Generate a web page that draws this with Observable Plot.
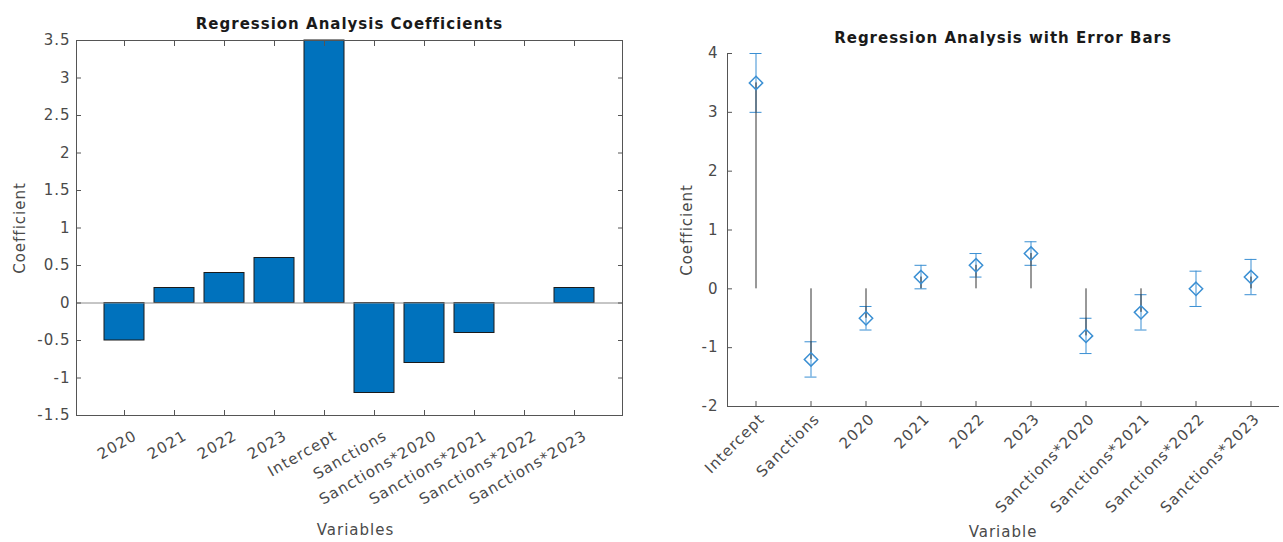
<!DOCTYPE html>
<html><head><meta charset="utf-8">
<script src="https://cdn.jsdelivr.net/npm/d3@7"></script>
<script src="https://cdn.jsdelivr.net/npm/@observablehq/plot@0.6"></script>
<style>
body{margin:0;background:#fff;}
#wrap{position:relative;width:1283px;height:542px;}
#left{position:absolute;left:0;top:0;}
#right{position:absolute;left:640px;top:0;}
svg text{letter-spacing:1px;}
svg g[aria-label="chart-title"] text{letter-spacing:2px;}
svg g[aria-label="axis-label"] text{letter-spacing:1.4px;}
</style></head><body><div id="wrap"><div id="left"></div><div id="right"></div></div>
<script>
const barVars = ["2020","2021","2022","2023","Intercept","Sanctions","Sanctions*2020","Sanctions*2021","Sanctions*2022","Sanctions*2023"];
const barCoefs = [-0.5,0.2,0.4,0.6,3.5,-1.2,-0.8,-0.4,0,0.2];
const errVars = ["Intercept","Sanctions","2020","2021","2022","2023","Sanctions*2020","Sanctions*2021","Sanctions*2022","Sanctions*2023"];
const errCoefs = [3.5,-1.2,-0.5,0.2,0.4,0.6,-0.8,-0.4,0,0.2];
const errLower = [3.0,-1.5,-0.7,0,0.2,0.4,-1.1,-0.7,-0.3,-0.1];
const errUpper = [4.0,-0.9,-0.3,0.4,0.6,0.8,-0.5,-0.1,0.3,0.5];
const leftTicks = [-1.5,-1,-0.5,0,0.5,1,1.5,2,2.5,3,3.5];
const rightTicks = [-2,-1,0,1,2,3,4];

const font = "'DejaVu Sans', sans-serif";
const axisColor = "#555";
const textColor = "#4a4a4a";
const barBlue = "#0072BD";
const errBlue = "#3a8fd3";

const barData = barVars.map((v, i) => ({v, c: barCoefs[i]}));
const errData = errVars.map((v, i) => ({v, c: errCoefs[i], lo: errLower[i], hi: errUpper[i]}));

const left = Plot.plot({
  width: 640, height: 542,
  marginLeft: 76, marginRight: 18, marginTop: 40, marginBottom: 127,
  style: {fontFamily: font, fontSize: "15px", color: textColor, background: "white"},
  x: {type: "band", domain: barVars, paddingInner: 0.2, paddingOuter: 0.5, label: null},
  y: {domain: [-1.5, 3.5], label: null},
  marks: [
    Plot.barY(barData, {x: "v", y: "c", fill: barBlue, stroke: "#1a1a1a", strokeWidth: 1}),
    Plot.ruleY([0], {stroke: "#8c8c8c"}),
    Plot.frame({stroke: axisColor}),
    Plot.axisY({ticks: leftTicks, tickFormat: d => String(d), tickSize: -5, tickPadding: 11, stroke: axisColor, label: null}),
    Plot.axisY({anchor: "right", ticks: leftTicks, tickFormat: () => "", tickSize: -5, stroke: axisColor, label: null}),
    Plot.axisX({tickSize: -5, tickFormat: () => "", stroke: axisColor, label: null}),
    Plot.axisX({tickSize: 0, tickPadding: 19, dx: 11, tickRotate: -30, label: null}),
    Plot.axisX({anchor: "top", tickSize: -5, tickFormat: () => "", stroke: axisColor, label: null}),
    Plot.text(["Regression Analysis Coefficients"], {ariaLabel: "chart-title", frameAnchor: "top", dy: -22, fontWeight: "bold", fontSize: 15, fill: "#1a1a1a"}),
    Plot.text(["Coefficient"], {ariaLabel: "axis-label", frameAnchor: "left", textAnchor: "middle", dx: -56, rotate: -90, fontSize: 15, fill: textColor}),
    Plot.text(["Variables"], {ariaLabel: "axis-label", frameAnchor: "bottom", dx: 6, dy: 119, fontSize: 15, fill: textColor})
  ]
});
document.getElementById("left").appendChild(left);

const right = Plot.plot({
  width: 643, height: 542,
  marginLeft: 87, marginRight: 5, marginTop: 53, marginBottom: 136,
  style: {fontFamily: font, fontSize: "15px", color: textColor, background: "white"},
  x: {type: "band", domain: errVars, padding: 0, label: null},
  y: {domain: [-2, 4], label: null},
  marks: [
    Plot.frame({anchor: "left", stroke: axisColor}),
    Plot.frame({anchor: "bottom", stroke: axisColor}),
    Plot.ruleX(errData, {x: "v", y1: "lo", y2: "hi", stroke: errBlue}),
    Plot.tickY(errData, {x: "v", y: "lo", stroke: errBlue, insetLeft: 21.5, insetRight: 21.5}),
    Plot.tickY(errData, {x: "v", y: "hi", stroke: errBlue, insetLeft: 21.5, insetRight: 21.5}),
    Plot.ruleX(errData, {x: "v", y1: 0, y2: "c", stroke: "#333", strokeWidth: 1}),
    Plot.dot(errData, {x: "v", y: "c", symbol: "diamond2", r: 6, stroke: errBlue, fill: "none"}),
    Plot.axisY({ticks: rightTicks, tickFormat: d => String(d), tickSize: -5, tickPadding: 14, stroke: axisColor, label: null}),
    Plot.axisX({tickSize: -5, tickFormat: () => "", stroke: axisColor, label: null}),
    Plot.axisX({tickSize: 0, tickPadding: 10, dx: 6, tickRotate: -45, label: null}),
    Plot.text(["Regression Analysis with Error Bars"], {ariaLabel: "chart-title", frameAnchor: "top", dy: -21, fontWeight: "bold", fontSize: 15, fill: "#1a1a1a"}),
    Plot.text(["Coefficient"], {ariaLabel: "axis-label", frameAnchor: "left", textAnchor: "middle", dx: -40, rotate: -90, fontSize: 15, fill: textColor}),
    Plot.text(["Variable"], {ariaLabel: "axis-label", frameAnchor: "bottom", dy: 130, fontSize: 15, fill: textColor})
  ]
});
document.getElementById("right").appendChild(right);
</script></body></html>
